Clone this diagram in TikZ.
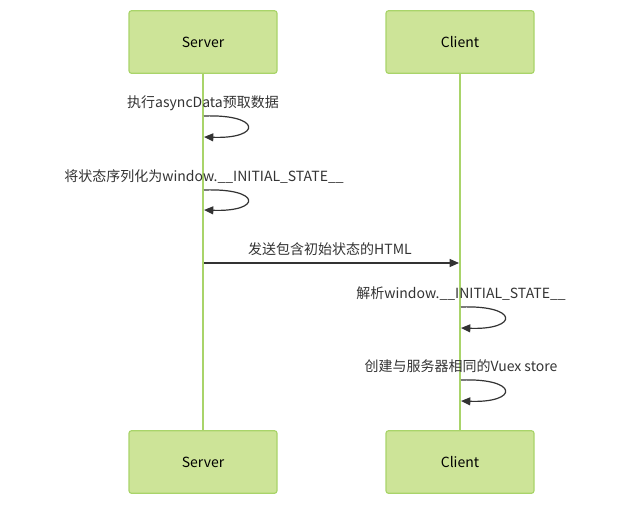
\documentclass[tikz,border=0pt]{standalone}
\usepackage{fontspec}
\setmainfont{Noto Sans CJK SC}
\usetikzlibrary{arrows.meta}
\definecolor{boxfill}{HTML}{CDE498}
\definecolor{boxline}{HTML}{A9D46A}
\definecolor{life}{HTML}{A9D46A}
\definecolor{msg}{HTML}{333333}
\begin{document}
\begin{tikzpicture}[x=0.75pt,y=-0.75pt,
  actor/.style={draw=boxline,fill=boxfill,line width=0.9pt,rounded corners=2pt,minimum width=111pt,minimum height=47pt,inner sep=0pt,font=\fontsize{10.5}{12}\selectfont},
  lbl/.style={font=\fontsize{10.5}{12}\selectfont,text=msg,inner sep=0pt},
  arr/.style={draw=msg,line width=0.9pt,-{Triangle[length=7pt,width=6pt]}},
  lifeline/.style={draw=life,line width=1.3pt}]
\useasboundingbox (0,0) rectangle (633,511);
\node[actor] (s1) at (203,42) {Server};
\node[actor] (c1) at (460,42) {Client};
\node[actor] (s2) at (203,462) {Server};
\node[actor] (c2) at (460,462) {Client};
\draw[lifeline] (s1) -- (s2);
\draw[lifeline] (c1) -- (c2);
\coordinate (a1) at (204,116); \coordinate (b1) at (204,137);
\coordinate (a2) at (204,190); \coordinate (b2) at (204,210);
\coordinate (a4) at (461,307); \coordinate (b4) at (461,328);
\coordinate (a5) at (461,380); \coordinate (b5) at (461,401);
\coordinate (m1) at (204,263); \coordinate (m2) at (459,263);
\node[lbl] (l1) at (203,103) {执行asyncData预取数据};
\draw[arr] (a1) .. controls (262,114) and (262,139) .. (b1);
\node[lbl] (l2) at (204,177) {将状态序列化为window.\_\_INITIAL\_STATE\_\_};
\draw[arr] (a2) .. controls (262,188) and (262,212) .. (b2);
\node[lbl] (l3) at (330,249) {发送包含初始状态的HTML};
\draw[arr] (m1) -- (m2);
\node[lbl] (l4) at (461,294) {解析window.\_\_INITIAL\_STATE\_\_};
\draw[arr] (a4) .. controls (519,305) and (519,330) .. (b4);
\node[lbl] (l5) at (461,366) {创建与服务器相同的Vuex store};
\draw[arr] (a5) .. controls (519,378) and (519,403) .. (b5);
\end{tikzpicture}
\end{document}
